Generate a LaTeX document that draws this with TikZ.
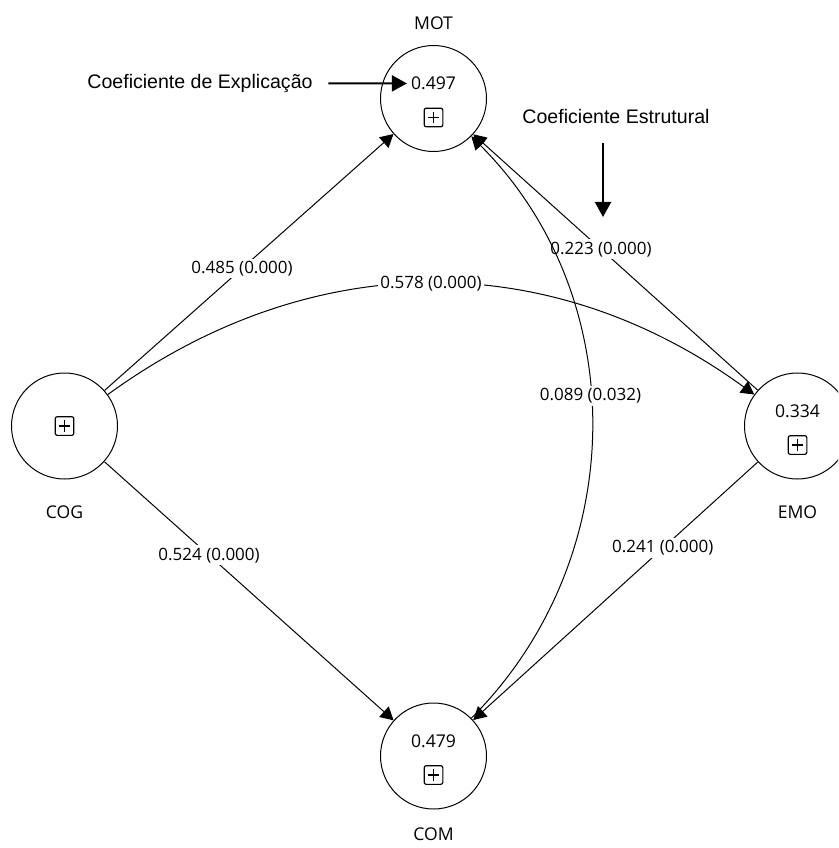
\documentclass[tikz,border=0pt]{standalone}
\usepackage{fontspec}
\setmainfont{Open Sans}
\newfontfamily\callfont{Liberation Sans}
\usetikzlibrary{arrows.meta}

\begin{document}
\begin{tikzpicture}
 [x=0.03cm,y=-0.03cm,
  every node/.style={font=\fontsize{15}{18}\selectfont},
  lv/.style={circle,draw,line width=0.85pt,minimum size=3.18cm,inner sep=0pt},
  plusbox/.style={draw,rounded corners=1.8pt,minimum size=0.56cm,inner sep=0pt,line width=1pt,
   path picture={\draw[line width=1pt]
    ([xshift=-0.17cm]path picture bounding box.center) -- ([xshift=0.17cm]path picture bounding box.center)
    ([yshift=-0.17cm]path picture bounding box.center) -- ([yshift=0.17cm]path picture bounding box.center);}},
  rel/.style={draw,line width=0.85pt,-{Triangle[length=0.39cm,width=0.42cm]}},
  lbl/.style={fill=white,inner sep=2pt,font=\fontsize{14.5}{17}\selectfont},
  note/.style={font=\callfont\fontsize{16.7}{19}\selectfont},
  callarrow/.style={draw,line width=1.7pt,-{Triangle[length=0.45cm,width=0.48cm]}}]
 \clip (0,0) rectangle (838,848);
 % latent variables
 \foreach \name/\x/\y in {MOT/433.5/98.5,COG/64.5/426,EMO/797.5/426,COM/433.5/756}
  \node[lv] (\name) at (\x,\y) {};
 \foreach \name/\val in {MOT/0.497,EMO/0.334,COM/0.479}
 {
  \node (\name-v) at ([yshift=0.45cm]\name) {\val};
  \node[plusbox] (\name-b) at ([yshift=-0.57cm]\name) {};
 }
 \node[plusbox] (COG-b) at (COG) {};
 \foreach \name/\dy in {MOT/2.27,COG/-2.58,EMO/-2.58,COM/-2.36}
  \node (\name-t) at ([yshift=\dy cm]\name) {\name};
 % paths
 \draw[rel] (COG) -- node[lbl,pos=0.476] {0.485 (0.000)} (MOT);
 \draw[rel] (COG) -- node[lbl,pos=0.362] {0.524 (0.000)} (COM);
 \draw[rel] (EMO) -- node[lbl,pos=0.551] {0.223 (0.000)} (MOT);
 \draw[rel] (EMO) -- node[lbl,pos=0.334] {0.241 (0.000)} (COM);
 \draw[rel] (COM) to[out=45,in=-45] node[lbl,pos=0.55] {0.089 (0.032)} (MOT);
 \draw[rel] (COG) to[bend left=36] node[lbl] {0.578 (0.000)} (EMO);
 % callouts
 \node[note] (expl) at (200,83) {Coeficiente de Explicação};
 \draw[callarrow,shorten <=0.35cm] (expl) -- (MOT-v);
 \node[note] (estr) at (616,117) {Coeficiente Estrutural};
 \coordinate (estr-tip) at (603,217);
 \draw[callarrow,shorten <=0.45cm] (estr.south -| estr-tip) -- (estr-tip);
\end{tikzpicture}
\end{document}
